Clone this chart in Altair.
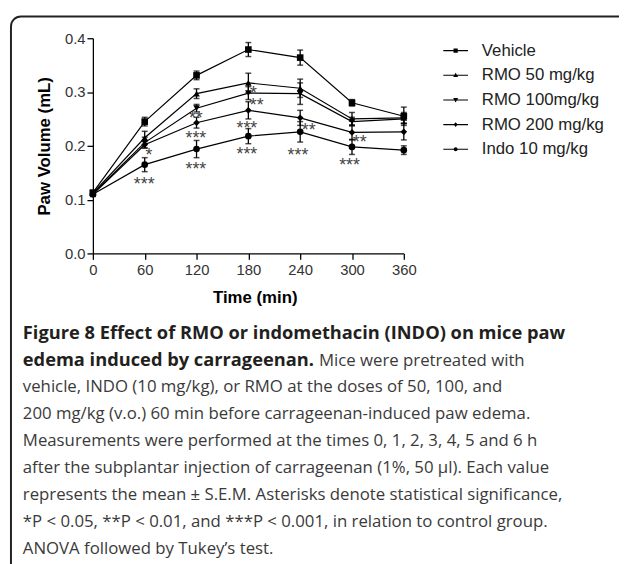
import altair as alt
import pandas as pd

# ---------------- data ----------------
times = [0, 60, 120, 180, 240, 300, 360]
groups = ["Vehicle", "RMO 50 mg/kg", "RMO 100mg/kg", "RMO 200 mg/kg", "Indo 10 mg/kg"]

vehicle_mean = [0.113, 0.245, 0.331, 0.379, 0.364, 0.280, 0.255]
vehicle_sem = [0.004, 0.008, 0.008, 0.013, 0.014, 0.006, 0.017]
rmo50_mean = [0.112, 0.215, 0.297, 0.317, 0.307, 0.250, 0.252]
rmo50_sem = [0.004, 0.012, 0.009, 0.018, 0.017, 0.012, 0.010]
rmo100_mean = [0.111, 0.206, 0.270, 0.298, 0.297, 0.245, 0.250]
rmo100_sem = [0.004, 0.010, 0.007, 0.012, 0.020, 0.008, 0.008]
rmo200_mean = [0.110, 0.202, 0.243, 0.266, 0.252, 0.225, 0.226]
rmo200_sem = [0.004, 0.006, 0.010, 0.016, 0.014, 0.014, 0.015]
indo_mean = [0.110, 0.165, 0.194, 0.218, 0.226, 0.198, 0.192]
indo_sem = [0.004, 0.013, 0.016, 0.014, 0.019, 0.014, 0.008]

# significance marks: anchor time, anchor value, label
star_time = [65, 59.4, 119.2, 119.2, 119.2, 185.9, 189.7, 178.3, 178.3, 249.9, 237.4, 308.9, 297.1]
star_value = [0.191, 0.1358, 0.2598, 0.2213, 0.1639, 0.3057, 0.2831, 0.2397, 0.1914, 0.2372, 0.1908, 0.214, 0.1712]
star_label = ["*", "***", "**", "***", "***", "*", "**", "***", "***", "**", "***", "**", "***"]

caption_bold = [
    "Figure 8 Effect of RMO or indomethacin (INDO) on mice paw",
    "edema induced by carrageenan.",
]
caption_regular_tail = "Mice were pretreated with"
caption_regular = [
    "vehicle, INDO (10 mg/kg), or RMO at the doses of 50, 100, and",
    "200 mg/kg (v.o.) 60 min before carrageenan-induced paw edema.",
    "Measurements were performed at the times 0, 1, 2, 3, 4, 5 and 6 h",
    "after the subplantar injection of carrageenan (1%, 50 \u00b5l). Each value",
    "represents the mean \u00b1 S.E.M. Asterisks denote statistical significance,",
    "*P < 0.05, **P < 0.01, and ***P < 0.001, in relation to control group.",
    "ANOVA followed by Tukey\u2019s test.",
]

# ---------------- tables ----------------
means = [vehicle_mean, rmo50_mean, rmo100_mean, rmo200_mean, indo_mean]
sems = [vehicle_sem, rmo50_sem, rmo100_sem, rmo200_sem, indo_sem]
rows = []
for g, m, s in zip(groups, means, sems):
    for t, mv, sv in zip(times, m, s):
        rows.append({"time": t, "group": g, "mean": mv, "lo": mv - sv, "hi": mv + sv})
df = pd.DataFrame(rows)
stars = pd.DataFrame({"time": star_time, "value": star_value, "label": star_label})

FONT = "Liberation Sans"
CAP_FONT = "Open Sans"

xscale = alt.Scale(domain=[0, 360], nice=False)
yscale = alt.Scale(domain=[0, 0.4], nice=False)

xaxis = alt.Axis(values=times, title="Time (min)", grid=False, labelFont=FONT, labelFontSize=15,
                 labelColor="#333", tickSize=6, tickColor="black", tickWidth=1.3, domainColor="black",
                 domainWidth=1.3, labelPadding=3, titleFont=FONT, titleFontSize=17, titleFontWeight="bold",
                 titleColor="black", titleX=164, titleY=50, titleBaseline="alphabetic", labelFlush=False)
yaxis = alt.Axis(values=[0, 0.1, 0.2, 0.3, 0.4], format=".1f", title="Paw Volume (mL)", grid=False,
                 labelFont=FONT, labelFontSize=15, labelColor="#333", tickSize=6, tickColor="black",
                 tickWidth=1.3, domainColor="black", domainWidth=1.3, labelPadding=2, titleFont=FONT,
                 titleFontSize=17, titleFontWeight="bold", titleColor="black", titleX=-44, titleY=109,
                 titleAngle=270, titleBaseline="alphabetic", titleAlign="center", labelFlush=False)

base = alt.Chart(df)
X = alt.X("time:Q", scale=xscale, axis=xaxis)

err = base.mark_rule(color="black", strokeWidth=1.3).encode(
    x=X, y=alt.Y("lo:Q", scale=yscale, axis=yaxis), y2="hi:Q")
cap_lo = base.mark_tick(color="black", orient="horizontal", size=6, thickness=1.5).encode(
    x="time:Q", y="lo:Q")
cap_hi = base.mark_tick(color="black", orient="horizontal", size=6, thickness=1.5).encode(
    x="time:Q", y="hi:Q")
lines = base.mark_line(color="black", strokeWidth=1.2).encode(
    x="time:Q", y="mean:Q", detail="group:N")
points = base.mark_point(filled=True, color="black", opacity=1, size=45).encode(
    x="time:Q", y="mean:Q",
    shape=alt.Shape("group:N", scale=alt.Scale(domain=groups,
                    range=["square", "triangle-up", "triangle-down", "diamond", "circle"]), legend=None))

# legend symbols: a thin filled bar (the line) plus a small marker, all clockwise
BAR = "M-1,-0.045H1V0.045H-1Z"
paths = [
    BAR + "M-0.17,-0.17H0.17V0.17H-0.17Z",
    BAR + "M0,-0.21L0.2,0.15L-0.2,0.15Z",
    BAR + "M0,0.21L-0.2,-0.15L0.2,-0.15Z",
    BAR + "M0,-0.2L0.16,0L0,0.2L-0.16,0Z",
    BAR + "M-0.16,0A0.16,0.16,0,1,1,0.16,0A0.16,0.16,0,1,1,-0.16,0Z",
]
legend_layer = base.transform_filter("false").mark_point(
    filled=True, color="black", opacity=1).encode(
    x="time:Q", y="mean:Q",
    shape=alt.Shape("group:N", scale=alt.Scale(domain=groups, range=paths),
                    legend=alt.Legend(title=None, orient="none", legendX=355, legendY=0, padding=0,
                                      symbolSize=625, symbolFillColor="black", symbolStrokeColor="black",
                                      symbolStrokeWidth=0, symbolOpacity=1, labelFont=FONT,
                                      labelFontSize=17, labelColor="#222", labelOffset=14, rowPadding=4,
                                      labelLimit=300)))

star_layer = alt.Chart(stars).mark_text(font=FONT, fontSize=18, color="#444", align="center",
                                        baseline="alphabetic", dy=10).encode(
    x="time:Q", y="value:Q", text="label:N")

one = pd.DataFrame({"k": [0]})
frame = alt.Chart(one).mark_rect(cornerRadius=10, fillOpacity=0, stroke="#222", strokeWidth=2).encode(
    x=alt.value(-83), x2=alt.value(570), y=alt.value(-22), y2=alt.value(545))

cap_layers = []
y0 = 304.3
step = 27.25
BOLD_SIZE = 18.5
REG_SIZE = 17
cap_layers.append(alt.Chart(one).mark_text(font=CAP_FONT, fontSize=BOLD_SIZE, fontWeight="bold",
                                           color="#231f20", align="left", baseline="alphabetic").encode(
    x=alt.value(-71), y=alt.value(y0), text=alt.value(caption_bold[0])))
cap_layers.append(alt.Chart(one).mark_text(font=CAP_FONT, fontSize=BOLD_SIZE, fontWeight="bold",
                                           color="#231f20", align="left", baseline="alphabetic").encode(
    x=alt.value(-71), y=alt.value(y0 + step), text=alt.value(caption_bold[1])))
cap_layers.append(alt.Chart(one).mark_text(font=CAP_FONT, fontSize=REG_SIZE, color="#3a3a3a",
                                           align="left", baseline="alphabetic").encode(
    x=alt.value(229), y=alt.value(y0 + step), text=alt.value(caption_regular_tail)))
for i, line in enumerate(caption_regular):
    cap_layers.append(alt.Chart(one).mark_text(font=CAP_FONT, fontSize=REG_SIZE, color="#3a3a3a",
                                               align="left", baseline="alphabetic").encode(
        x=alt.value(-71), y=alt.value(y0 + step * (i + 2)), text=alt.value(line)))

chart = alt.layer(frame, err, cap_lo, cap_hi, lines, points, legend_layer, star_layer, *cap_layers).resolve_scale(
    shape="independent"
).properties(
    width=315, height=218,
    padding={"left": 86, "top": 27, "right": 218, "bottom": 311},
    autosize=alt.AutoSizeParams(type="none"),
    background="white",
).configure_view(strokeWidth=0)

chart.save("out.html", embed_options={"renderer": "svg", "actions": False})
